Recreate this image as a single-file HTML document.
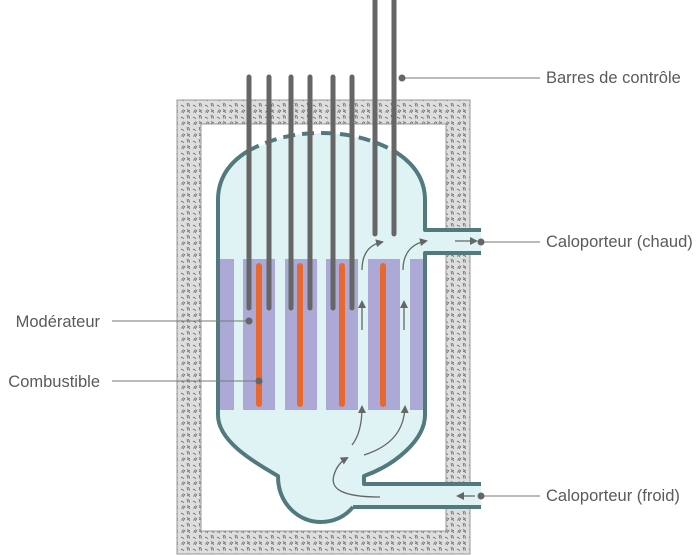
<!DOCTYPE html>
<html><head><meta charset="utf-8"><style>
html,body{margin:0;padding:0;background:#fff;}
svg{display:block;}
text{font-family:"Liberation Sans",sans-serif;font-size:16.5px;fill:#5a5a5a;}
</style></head><body>
<svg width="700" height="555" viewBox="0 0 700 555" xmlns="http://www.w3.org/2000/svg">
<defs>
<pattern id="conc" width="12" height="12" patternUnits="userSpaceOnUse">
<rect width="12" height="12" fill="#dedede"/>
<path d="M1.5,4.5 l2,-3 M3,5 l2,-3 M8,10.5 l-1,-3.5 M9.6,10.5 l-1,-3.5 M7,1.5 l3,1.5 M7,3 l3,1.5 M1,9 l3,1.5" stroke="#666" stroke-width="0.8" fill="none"/>
</pattern>
<marker id="ah" markerWidth="8" markerHeight="8" refX="6" refY="4" orient="auto" markerUnits="userSpaceOnUse"><path d="M0,0 L8,4 L0,8 z" fill="#666"/></marker>
</defs>
<path d="M177,100 H470 V554 H177 Z M201,124 V531 H446 V124 Z" fill="url(#conc)" fill-rule="evenodd" stroke="#999" stroke-width="1"/>
<path d="M218,200 C218,160 270,133 321,133 C372,133 425,160 425,200 L425,230 L481,230 L481,253 L425,253 L425,415 C425,440 395,465 364,476 L364,484 L481,484 L481,507 L353,507 C348,513 338,522 320,522 C300,522 278,505 278,476 C250,460 218,440 218,415 Z" fill="#dff3f5"/>
<g fill="#aca9d6">
<rect x="218" y="259" width="16" height="151"/>
<rect x="243" y="259" width="32" height="151"/>
<rect x="285" y="259" width="32" height="151"/>
<rect x="326" y="259" width="32" height="151"/>
<rect x="368" y="259" width="32" height="151"/>
<rect x="410" y="259" width="15" height="151"/>
</g>
<g stroke="#e8692f" stroke-width="6" stroke-linecap="round">
<line x1="259" y1="266" x2="259" y2="404"/>
<line x1="300" y1="266" x2="300" y2="404"/>
<line x1="342" y1="266" x2="342" y2="404"/>
<line x1="383" y1="266" x2="383" y2="404"/>
</g>
<g fill="none" stroke="#527a7e" stroke-width="4" stroke-linejoin="round">
<path d="M353,507 L481,507"/>
<path d="M353,507 C348,513 338,522 320,522 C300,522 278,505 278,476 C250,460 218,440 218,415 L218,200 C218,178 230,162 248,151"/>
<path d="M248,151 C272,138 296,133 321,133 C346,133 370,138 394,151" stroke-dasharray="12,7"/>
<path d="M394,151 C412,162 425,178 425,200 L425,230 L481,230"/>
<path d="M481,253 L425,253 L425,415 C425,440 395,465 364,476 L364,484 L481,484"/>
</g>
<g fill="none" stroke="#666" stroke-width="1.3">
<path d="M362,270 C362,255 368,245 382,242" marker-end="url(#ah)"/>
<path d="M403,270 C403,255 410,244 426,241" marker-end="url(#ah)"/>
<path d="M455,241 H476" marker-end="url(#ah)"/>
<path d="M362,330 V302" marker-end="url(#ah)"/>
<path d="M404,330 V302" marker-end="url(#ah)"/>
<path d="M352,445 C360,435 362,420 362,407" marker-end="url(#ah)"/>
<path d="M364,455 C392,446 404,430 405,407" marker-end="url(#ah)"/>
<path d="M380,497 C340,497 330,488 334,475 C336,468 340,462 347,458" marker-end="url(#ah)"/>
<path d="M475,496 H458" marker-end="url(#ah)"/>
</g>
<g stroke="#666" stroke-width="5" stroke-linecap="round">
<line x1="249" y1="77" x2="249" y2="308"/>
<line x1="269" y1="77" x2="269" y2="308"/>
<line x1="291" y1="77" x2="291" y2="308"/>
<line x1="310" y1="77" x2="310" y2="308"/>
<line x1="333" y1="77" x2="333" y2="308"/>
<line x1="352" y1="77" x2="352" y2="308"/>
<line x1="375" y1="0" x2="375" y2="234"/>
<line x1="394" y1="0" x2="394" y2="234"/>
</g>
<g stroke="#777" stroke-width="1">
<line x1="402" y1="78" x2="540" y2="78"/>
<line x1="481" y1="242" x2="540" y2="242"/>
<line x1="481" y1="496" x2="540" y2="496"/>
<line x1="112" y1="321" x2="249" y2="321"/>
<line x1="112" y1="381" x2="259" y2="381"/>
</g>
<g fill="#666">
<circle cx="402" cy="78" r="3.5"/>
<circle cx="481" cy="242" r="3.5"/>
<circle cx="481" cy="496" r="3.5"/>
<circle cx="249" cy="321" r="3.5"/>
<circle cx="259" cy="381" r="3.5"/>
</g>
<text x="546" y="83">Barres de contrôle</text>
<text x="546" y="247">Caloporteur (chaud)</text>
<text x="546" y="501">Caloporteur (froid)</text>
<text x="100" y="327" text-anchor="end">Modérateur</text>
<text x="100" y="387" text-anchor="end">Combustible</text>
</svg>
</body></html>
